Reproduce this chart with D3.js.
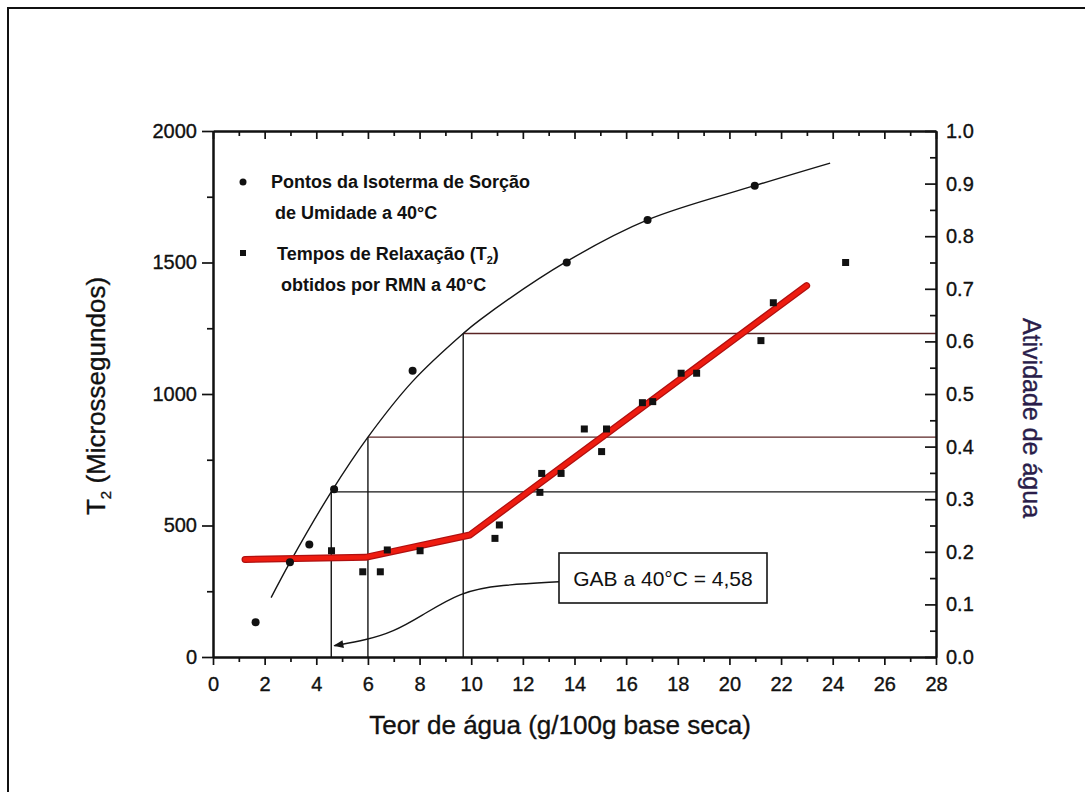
<!DOCTYPE html>
<html>
<head>
<meta charset="utf-8">
<script src="https://cdn.jsdelivr.net/npm/d3@7"></script>
<style>
  body { margin: 0; background: #fff; }
  svg { display: block; }
  text { font-family: "Liberation Sans", Arial, Helvetica, sans-serif; fill: #111; }
  .heavy { stroke: #111; stroke-width: 0.35px; }
</style>
</head>
<body>
<svg id="chart" width="1085" height="792"></svg>
<script>
// ---- data -------------------------------------------------------------
// Moisture sorption isotherm points at 40 °C (water content, water activity)
const sorptionX  = [1.65, 2.98, 3.73, 4.69, 7.73, 13.70, 16.83, 20.98];
const sorptionAw = [0.066, 0.180, 0.214, 0.319, 0.544, 0.750, 0.831, 0.896];

// NMR relaxation times T2 at 40 °C (water content, microseconds)
const t2X   = [4.59, 5.80, 6.48, 6.75, 8.02, 10.92, 11.09, 12.66, 12.73, 13.48,
               14.38, 15.05, 15.24, 16.63, 17.03, 18.13, 18.73, 21.22, 21.70, 24.50];
const t2Val = [404, 324, 324, 407, 404, 451, 502, 626, 698, 698,
               867, 781, 867, 967, 971, 1079, 1079, 1203, 1347, 1500];

// GAB isotherm fit, sampled along the fitted curve
const gabX  = [2.25, 2.98, 4.58, 6.00, 7.73, 9.69, 10.34, 13.70, 16.83, 20.98, 23.90];
const gabAw = [0.113, 0.180, 0.314, 0.418, 0.524, 0.615, 0.641, 0.752, 0.831, 0.896, 0.939];

// Piecewise linear trend of T2
const trendX  = [1.24, 5.91, 9.95, 22.99];
const trendT2 = [371, 379, 464, 1412];

// Guide lines: water content -> water activity on the isotherm
const guideX  = [4.58, 6.00, 9.69];
const guideAw = [0.314, 0.418, 0.615];

// Annotation arrow pointing at the GAB monolayer value
const arrowX  = [13.40, 11.12, 9.57, 8.02, 6.98, 5.95, 4.70];
const arrowT2 = [286, 274, 248, 153, 96, 65, 43];
const gabLabel = "GAB a 40°C = 4,58";

// Axis ticks
const xTicks      = [0, 2, 4, 6, 8, 10, 12, 14, 16, 18, 20, 22, 24, 26, 28];
const xMinorTicks = d3.range(1, 28, 2);
const t2Ticks      = [0, 500, 1000, 1500, 2000];
const t2MinorTicks = [250, 750, 1250, 1750];
const awTicks      = [0.0, 0.1, 0.2, 0.3, 0.4, 0.5, 0.6, 0.7, 0.8, 0.9, 1.0];
const awMinorTicks = [0.05, 0.15, 0.25, 0.35, 0.45, 0.55, 0.65, 0.75, 0.85, 0.95];

// ---- layout -----------------------------------------------------------
const W = 1085, H = 792;
const plot = { left: 213, right: 936, top: 131, bottom: 657 };
const FONT = '"Liberation Sans", Arial, Helvetica, sans-serif';

const svg = d3.select("#chart");

const x  = d3.scaleLinear().domain([0, 28]).range([plot.left, plot.right]);
const yT = d3.scaleLinear().domain([0, 2000]).range([plot.bottom, plot.top]);
const yA = d3.scaleLinear().domain([0, 1]).range([plot.bottom, plot.top]);

// outer frame
svg.append("path")
  .attr("d", `M8,${H} L8,8 L${W},8`)
  .attr("fill", "none").attr("stroke", "#111").attr("stroke-width", 2);

// ---- guide lines -------------------------------------------------------
const guideColors = ["#151515", "#5a2424", "#5a2424"];
guideX.forEach((gx, i) => {
  const px = x(gx), py = yA(guideAw[i]);
  svg.append("line")
    .attr("x1", px).attr("x2", px).attr("y1", plot.bottom).attr("y2", py)
    .attr("stroke", "#151515").attr("stroke-width", 1.4);
  svg.append("line")
    .attr("x1", px).attr("x2", plot.right).attr("y1", py).attr("y2", py)
    .attr("stroke", guideColors[i]).attr("stroke-width", 1.4);
});

// ---- GAB curve -----------------------------------------------------------
const gabPts = gabX.map((v, i) => [v, gabAw[i]]);
svg.append("path")
  .datum(gabPts)
  .attr("fill", "none").attr("stroke", "#151515").attr("stroke-width", 1.4)
  .attr("d", d3.line().x(d => x(d[0])).y(d => yA(d[1])).curve(d3.curveCatmullRom.alpha(0.5)));

// ---- annotation arrow ---------------------------------------------------
svg.append("defs").append("marker")
  .attr("id", "arrowhead").attr("viewBox", "0 0 10 10")
  .attr("refX", 9).attr("refY", 5)
  .attr("markerWidth", 15).attr("markerHeight", 10)
  .attr("markerUnits", "userSpaceOnUse")
  .attr("orient", "auto")
  .append("path").attr("d", "M0,1 L10,5 L0,9 Z").attr("fill", "#151515");

const arrowPts = arrowX.map((v, i) => [v, arrowT2[i]]);
svg.append("path")
  .datum(arrowPts)
  .attr("fill", "none").attr("stroke", "#151515").attr("stroke-width", 1.4)
  .attr("marker-end", "url(#arrowhead)")
  .attr("d", d3.line().x(d => x(d[0])).y(d => yT(d[1])).curve(d3.curveBasis));

// ---- T2 trend line --------------------------------------------------------
const trendPts = trendX.map((v, i) => [v, trendT2[i]]);
const trendLine = d3.line().x(d => x(d[0])).y(d => yT(d[1]));
svg.append("path").datum(trendPts)
  .attr("fill", "none").attr("stroke", "#b01010").attr("stroke-width", 7)
  .attr("stroke-linejoin", "round").attr("stroke-linecap", "round")
  .attr("d", trendLine);
svg.append("path").datum(trendPts)
  .attr("fill", "none").attr("stroke", "#ee1c10").attr("stroke-width", 4.5)
  .attr("stroke-linejoin", "round").attr("stroke-linecap", "round")
  .attr("d", trendLine);

// ---- markers -------------------------------------------------------------
svg.append("g").selectAll("circle")
  .data(sorptionX.map((v, i) => [v, sorptionAw[i]]))
  .join("circle")
  .attr("cx", d => x(d[0])).attr("cy", d => yA(d[1]))
  .attr("r", 4).attr("fill", "#111");

const sq = 7;
svg.append("g").selectAll("rect")
  .data(t2X.map((v, i) => [v, t2Val[i]]))
  .join("rect")
  .attr("x", d => x(d[0]) - sq / 2).attr("y", d => yT(d[1]) - sq / 2)
  .attr("width", sq).attr("height", sq).attr("fill", "#111");

// ---- axes -------------------------------------------------------------
function styleAxis(g) {
  g.selectAll("path.domain").attr("stroke", "#111").attr("stroke-width", 2);
  g.selectAll(".tick line").attr("stroke", "#111").attr("stroke-width", 1.7);
  g.selectAll(".tick text").attr("font-family", FONT).attr("font-size", 20)
    .attr("fill", "#111").attr("class", "heavy");
}

// bottom
svg.append("g").attr("transform", `translate(0,${plot.bottom})`)
  .call(d3.axisBottom(x).tickValues(xMinorTicks).tickSize(5).tickSizeOuter(0).tickFormat(""))
  .call(styleAxis);
svg.append("g").attr("transform", `translate(0,${plot.bottom})`)
  .call(d3.axisBottom(x).tickValues(xTicks).tickSize(8).tickSizeOuter(0).tickPadding(12).tickFormat(d3.format("d")))
  .call(styleAxis);

// top (ticks pointing inside)
svg.append("g").attr("transform", `translate(0,${plot.top})`)
  .call(d3.axisTop(x).tickValues(xMinorTicks).tickSize(-5).tickSizeOuter(0).tickFormat(""))
  .call(styleAxis);
svg.append("g").attr("transform", `translate(0,${plot.top})`)
  .call(d3.axisTop(x).tickValues(xTicks).tickSize(-8).tickSizeOuter(0).tickFormat(""))
  .call(styleAxis);

// left (T2)
svg.append("g").attr("transform", `translate(${plot.left},0)`)
  .call(d3.axisLeft(yT).tickValues(t2MinorTicks).tickSize(6).tickSizeOuter(0).tickFormat(""))
  .call(styleAxis);
svg.append("g").attr("transform", `translate(${plot.left},0)`)
  .call(d3.axisLeft(yT).tickValues(t2Ticks).tickSize(11).tickSizeOuter(0).tickPadding(5).tickFormat(d3.format("d")))
  .call(styleAxis);

// right (water activity, ticks pointing inside)
svg.append("g").attr("transform", `translate(${plot.right},0)`)
  .call(d3.axisRight(yA).tickValues(awMinorTicks).tickSize(-6).tickSizeOuter(0).tickFormat(""))
  .call(styleAxis);
svg.append("g").attr("transform", `translate(${plot.right},0)`)
  .call(d3.axisRight(yA).tickValues(awTicks).tickSize(-11).tickSizeOuter(0).tickPadding(10).tickFormat(d3.format(".1f")))
  .call(styleAxis);

// ---- axis titles ------------------------------------------------------
svg.append("text")
  .attr("class", "heavy")
  .attr("x", 560).attr("y", 734)
  .attr("text-anchor", "middle").attr("font-size", 26)
  .text("Teor de água (g/100g base seca)");

const yTitle = svg.append("text")
  .attr("class", "heavy")
  .attr("transform", "translate(105,396) rotate(-90)")
  .attr("text-anchor", "middle").attr("font-size", 26);
yTitle.append("tspan").text("T");
yTitle.append("tspan").attr("font-size", 15).attr("dy", 6).text("2");
yTitle.append("tspan").attr("dy", -6).text(" (Microssegundos)");

svg.append("text")
  .attr("transform", "translate(1023,418) rotate(90)")
  .attr("text-anchor", "middle").attr("font-size", 25)
  .style("fill", "#2a1d4a").style("stroke", "#2a1d4a").style("stroke-width", "0.35px")
  .text("Atividade de água");

// ---- legend ---------------------------------------------------------------
const legend = svg.append("g").attr("font-size", 18).attr("font-weight", "bold");
legend.append("circle").attr("cx", 243).attr("cy", 182).attr("r", 3.5).attr("fill", "#111");
legend.append("text").attr("x", 271).attr("y", 188).text("Pontos da Isoterma de Sorção");
legend.append("text").attr("x", 275).attr("y", 219).text("de Umidade a 40°C");
legend.append("rect").attr("x", 240).attr("y", 250).attr("width", 6).attr("height", 6).attr("fill", "#111");
const l3 = legend.append("text").attr("x", 277).attr("y", 260);
l3.append("tspan").text("Tempos de Relaxação (T");
l3.append("tspan").attr("font-size", 11).attr("dy", 4).text("2");
l3.append("tspan").attr("dy", -4).text(")");
legend.append("text").attr("x", 281).attr("y", 291).text("obtidos por RMN a 40°C");

// ---- GAB annotation box ------------------------------------------------
const box = { x: 559, y: 553, w: 208, h: 50 };
svg.append("rect")
  .attr("x", box.x).attr("y", box.y).attr("width", box.w).attr("height", box.h)
  .attr("fill", "#fff").attr("stroke", "#151515").attr("stroke-width", 1.6);
svg.append("text")
  .attr("x", box.x + box.w / 2).attr("y", box.y + 33)
  .attr("text-anchor", "middle").attr("font-size", 21)
  .text(gabLabel);
</script>
</body>
</html>
